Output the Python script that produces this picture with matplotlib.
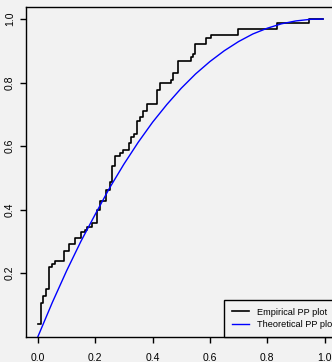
import matplotlib
matplotlib.use("Agg")
import matplotlib.pyplot as plt

# empirical PP plot (step function)
emp_x = [0.0, 0.009, 0.019, 0.028, 0.040, 0.050, 0.059, 0.091, 0.109, 0.131,
         0.150, 0.164, 0.172, 0.190, 0.207, 0.218, 0.237, 0.251, 0.258, 0.268,
         0.286, 0.298, 0.317, 0.326, 0.334, 0.346, 0.357, 0.366, 0.379, 0.416,
         0.426, 0.464, 0.472, 0.488, 0.534, 0.542, 0.549, 0.586, 0.605, 0.697,
         0.835, 0.946, 0.995]
emp_y = [0.038, 0.107, 0.127, 0.149, 0.218, 0.229, 0.238, 0.268, 0.291, 0.311,
         0.328, 0.336, 0.345, 0.357, 0.397, 0.428, 0.463, 0.488, 0.537, 0.568,
         0.578, 0.588, 0.608, 0.628, 0.639, 0.679, 0.690, 0.709, 0.731, 0.778,
         0.800, 0.808, 0.830, 0.869, 0.879, 0.890, 0.920, 0.939, 0.950, 0.969,
         0.988, 1.0, 1.0]

# theoretical PP plot
theo_x = [0.0, 0.05, 0.10, 0.15, 0.20, 0.25, 0.30, 0.35, 0.40, 0.45, 0.50,
          0.55, 0.60, 0.65, 0.70, 0.75, 0.80, 0.85, 0.90, 0.95, 0.995]
theo_y = [0.0, 0.107, 0.207, 0.300, 0.385, 0.468, 0.543, 0.612, 0.675, 0.731,
          0.782, 0.827, 0.866, 0.900, 0.929, 0.953, 0.971, 0.985, 0.994, 0.999,
          1.0]

x_ticks = [0.0, 0.2, 0.4, 0.6, 0.8, 1.0]
y_ticks = [0.2, 0.4, 0.6, 0.8, 1.0]

bg = "#f2f2f2"
plt.rcParams["font.family"] = ["Liberation Sans", "DejaVu Sans"]

fig = plt.figure(figsize=(3.32, 3.62), dpi=100, facecolor=bg)
ax = fig.add_axes([0.0798, 0.0704, 0.9322, 0.9108], facecolor=bg)

ax.plot(emp_x, emp_y, drawstyle="steps-post", color="black", lw=1.2,
        label="Empirical PP plot")
ax.plot(theo_x, theo_y, color="blue", lw=1.0, label="Theoretical PP plot")

ax.set_xlim(-0.04, 1.04)
ax.set_ylim(0.0, 1.0385)
ax.set_xticks(x_ticks)
ax.set_yticks(y_ticks)
ax.set_xticklabels(["%.1f" % v for v in x_ticks])
ax.set_yticklabels(["%.1f" % v for v in y_ticks], rotation=90, va="center")
ax.tick_params(axis="x", length=4, width=1, pad=8, labelsize=7.5)
ax.tick_params(axis="y", length=4, width=1, pad=4.3, labelsize=7.5)
for s in ax.spines.values():
    s.set_linewidth(1.0)
    s.set_color("black")

# legend box starts at x=0.65 (data) and runs past the right edge
leg = ax.legend(loc="lower left", bbox_to_anchor=(0.639, 0.0), borderaxespad=0,
                fontsize=6.6, fancybox=False, edgecolor="black", facecolor=bg,
                framealpha=1, handlelength=1.8, handletextpad=0.9,
                borderpad=0.85, labelspacing=0.35)
leg.get_frame().set_linewidth(1.0)

fig.savefig("out.png", dpi=100, facecolor=bg)
